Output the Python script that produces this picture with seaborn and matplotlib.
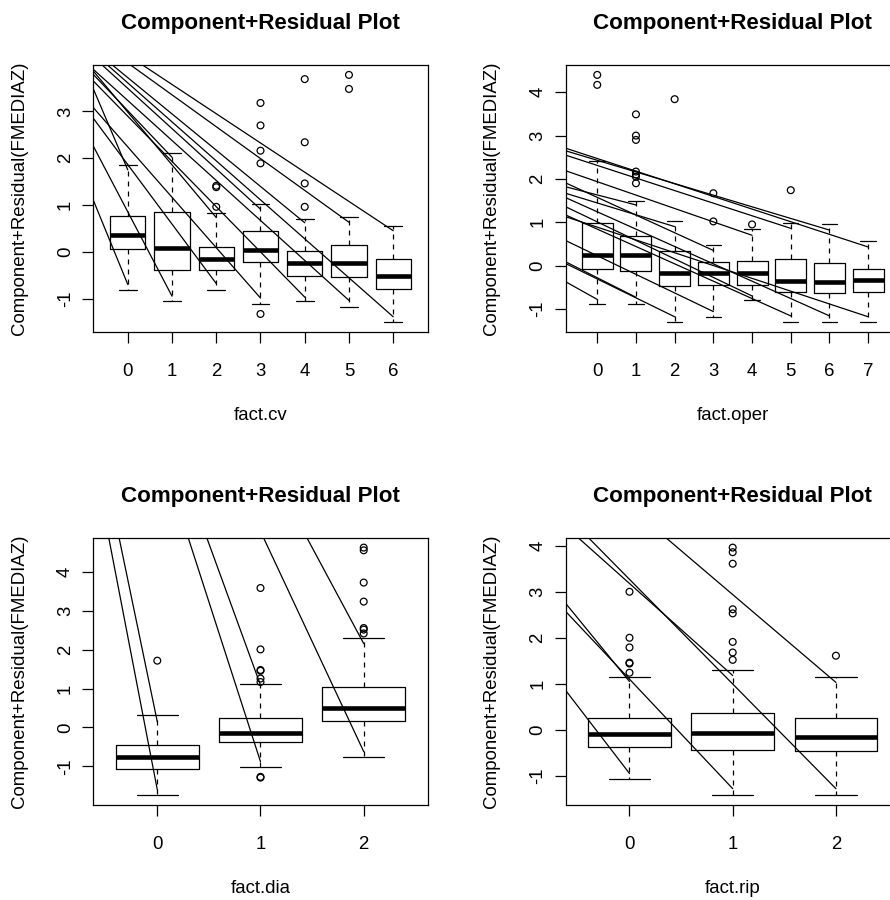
import matplotlib
matplotlib.use("Agg")
import matplotlib.pyplot as plt
import numpy as np
import pandas as pd
import seaborn as sns

TITLE = "Component+Residual Plot"
YLABEL = "Component+Residual(FMEDIAZ)"

# ---- fact.cv ----
cv_levels = ["0", "1", "2", "3", "4", "5", "6"]
cv_q1 = [0.05, -0.40, -0.40, -0.21, -0.51, -0.55, -0.79]
cv_med = [0.36, 0.09, -0.15, 0.03, -0.25, -0.25, -0.51]
cv_q3 = [0.77, 0.86, 0.11, 0.44, 0.02, 0.14, -0.16]
cv_lo = [-0.81, -1.06, -0.81, -1.11, -1.05, -1.18, -1.51]
cv_hi = [1.85, 2.12, 0.83, 1.01, 0.71, 0.75, 0.56]
cv_out = [[], [], [1.41, 1.38, 0.96], [3.18, 2.70, 2.16, 1.89, -1.33],
          [3.69, 2.34, 1.46, 0.96], [3.78, 3.48], []]
cv_seg_x0 = [-0.77, -0.77, -0.77, -0.77, -0.77, -0.77, -0.77, -0.77, -0.77,
             -0.59, -0.47, -0.36, 0.05, 0.32]
cv_seg_y0 = [1.08, 2.24, 2.84, 3.07, 3.46, 3.64, 3.78, 3.85, 3.89,
             4.0, 4.0, 4.0, 4.0, 4.0]
cv_seg_x1 = [0, 1, 2, 3, 0, 4, 1, 2, 5, 3, 6, 4, 5, 6]
cv_seg_y1 = [-0.70, -0.95, -0.68, -0.99, 1.75, -0.97, 2.02, 0.73, -1.04,
             0.91, -1.39, 0.62, 0.63, 0.45]

# ---- fact.oper ----
op_levels = ["0", "1", "2", "3", "4", "5", "6", "7"]
op_q1 = [-0.08, -0.12, -0.48, -0.45, -0.45, -0.60, -0.64, -0.60]
op_med = [0.25, 0.25, -0.18, -0.18, -0.18, -0.35, -0.37, -0.34]
op_q3 = [0.99, 0.69, 0.33, 0.08, 0.11, 0.15, 0.05, -0.08]
op_lo = [-0.88, -0.88, -1.31, -1.19, -0.79, -1.29, -1.29, -1.31]
op_hi = [2.42, 1.48, 1.02, 0.48, 0.84, 0.99, 0.95, 0.56]
op_out = [[4.40, 4.17], [3.49, 3.00, 2.90, 2.17, 2.10, 2.05, 1.90], [3.84],
          [1.67, 1.02], [0.95], [1.74], [], []]
op_seg_x0 = [-0.82] * 15
op_seg_y0 = [2.71, 2.65, 2.55, 2.19, 1.91, 1.82, 1.67, 1.57, 1.36, 1.17,
             1.13, 0.58, 0.09, 0.05, -0.37]
op_seg_x1 = [7, 6, 5, 4, 3, 1, 2, 6, 4, 5, 7, 3, 1, 2, 0]
op_seg_y1 = [0.43, 0.82, 0.86, 0.70, 0.35, 1.40, 0.90, -1.16, -0.70, -1.16,
             -1.18, -1.06, -0.73, -1.18, -0.78]

# ---- fact.dia ----
dia_levels = ["0", "1", "2"]
dia_q1 = [-1.06, -0.37, 0.17]
dia_med = [-0.76, -0.15, 0.49]
dia_q3 = [-0.45, 0.24, 1.04]
dia_lo = [-1.74, -1.02, -0.77]
dia_hi = [0.32, 1.11, 2.30]
dia_out = [[1.72], [3.59, 2.01, 1.48, 1.46, 1.26, 1.17, -1.27, -1.29],
           [4.63, 4.56, 3.73, 3.24, 2.56, 2.52, 2.42]]
dia_seg_x0 = [-0.47, -0.37, 0.30, 0.48, 1.03, 1.45]
dia_seg_y0 = [4.88, 4.88, 4.88, 4.88, 4.88, 4.88]
dia_seg_x1 = [0, 0, 1, 1, 2, 2]
dia_seg_y1 = [-1.60, 0.15, -0.88, 1.09, -0.62, 2.16]

# ---- fact.rip ----
rip_levels = ["0", "1", "2"]
rip_q1 = [-0.37, -0.42, -0.45]
rip_med = [-0.09, -0.05, -0.15]
rip_q3 = [0.27, 0.37, 0.27]
rip_lo = [-1.06, -1.41, -1.41]
rip_hi = [1.16, 1.31, 1.16]
rip_out = [[3.01, 2.01, 1.80, 1.47, 1.45, 1.25],
           [3.97, 3.87, 3.62, 2.63, 2.54, 1.92, 1.69, 1.53], [1.62]]
rip_seg_x0 = [-0.63, -0.63, -0.63, -0.50, -0.40, 0.35]
rip_seg_y0 = [0.90, 2.79, 2.61, 4.19, 4.19, 4.19]
rip_seg_x1 = [0, 0, 1, 1, 2, 2]
rip_seg_y1 = [-0.94, 1.06, -1.27, 1.19, -1.27, 1.04]

panels = [
    ("fact.cv", cv_levels, cv_q1, cv_med, cv_q3, cv_lo, cv_hi, cv_out,
     cv_seg_x0, cv_seg_y0, cv_seg_x1, cv_seg_y1),
    ("fact.oper", op_levels, op_q1, op_med, op_q3, op_lo, op_hi, op_out,
     op_seg_x0, op_seg_y0, op_seg_x1, op_seg_y1),
    ("fact.dia", dia_levels, dia_q1, dia_med, dia_q3, dia_lo, dia_hi, dia_out,
     dia_seg_x0, dia_seg_y0, dia_seg_x1, dia_seg_y1),
    ("fact.rip", rip_levels, rip_q1, rip_med, rip_q3, rip_lo, rip_hi, rip_out,
     rip_seg_x0, rip_seg_y0, rip_seg_x1, rip_seg_y1),
]

sns.set_theme(style="ticks")
plt.rcParams["font.family"] = ["Liberation Sans", "DejaVu Sans"]

LW = 0.9
FS = 13.4
W, H = 890.0, 900.0
AX_W, AX_H = 334.4, 267.3
lefts = [93.3, 565.5, 93.3, 565.5]
tops = [65.0, 65.0, 537.7, 537.7]

fig = plt.figure(figsize=(W / 100, H / 100), dpi=100)
fig.patch.set_facecolor("white")

for i, (xname, levels, q1, med, q3, lo, hi, outs, sx0, sy0, sx1, sy1) in enumerate(panels):
    ax = fig.add_axes([lefts[i] / W, 1 - (tops[i] + AX_H) / H, AX_W / W, AX_H / H])
    ax.set_facecolor("white")
    n = len(levels)
    pos = np.arange(n)

    stats = [dict(q1=q1[k], med=med[k], q3=q3[k], whislo=lo[k], whishi=hi[k], fliers=[])
             for k in range(n)]
    ax.bxp(stats, positions=pos, widths=0.8, showfliers=False, manage_ticks=False,
           boxprops=dict(color="black", linewidth=LW),
           medianprops=dict(color="black", linewidth=3.3, solid_capstyle="butt"),
           whiskerprops=dict(color="black", linewidth=LW, linestyle=(0, (4, 4))),
           capprops=dict(color="black", linewidth=LW))

    # outlying points
    ox = [pos[k] for k in range(n) for _ in outs[k]]
    oy = [v for k in range(n) for v in outs[k]]
    if ox:
        sns.scatterplot(x=ox, y=oy, ax=ax, s=24, facecolor="none",
                        edgecolor="black", linewidth=LW, zorder=4, legend=False)

    # component lines (extended slightly past their start so the frame clips them)
    rows = []
    for j in range(len(sx0)):
        xa = sx1[j] + (sx0[j] - sx1[j]) * 1.08
        ya = sy1[j] + (sy0[j] - sy1[j]) * 1.08
        rows.append((j, xa, ya))
        rows.append((j, sx1[j], sy1[j]))
    seg = pd.DataFrame(rows, columns=["seg", "x", "y"])
    sns.lineplot(data=seg, x="x", y="y", units="seg", estimator=None, sort=False,
                 color="black", linewidth=LW, ax=ax, legend=False)

    all_y = list(lo) + list(hi) + oy
    ymin, ymax = min(all_y), max(all_y)
    ypad = 0.04 * (ymax - ymin)
    y_lo, y_hi = ymin - ypad, ymax + ypad
    ax.set_ylim(y_lo, y_hi)
    ax.set_xlim(-0.5 - 0.04 * n, n - 0.5 + 0.04 * n)

    ax.set_xticks(pos)
    ax.set_xticklabels(levels)
    yt = list(range(int(np.ceil(y_lo)), int(np.floor(y_hi)) + 1))
    ax.set_yticks(yt)
    ax.set_yticklabels([str(v) for v in yt])

    ax.tick_params(axis="both", direction="out", length=7.9, width=LW,
                   color="black", labelsize=FS, labelcolor="black")
    ax.tick_params(axis="x", pad=14.2)
    ax.tick_params(axis="y", pad=6.0, labelrotation=90)
    for lab in ax.get_yticklabels():
        lab.set_va("center")

    for sp in ax.spines.values():
        sp.set_visible(True)
        sp.set_color("black")
        sp.set_linewidth(LW)

    ax.set_title(TITLE, fontsize=16.1, fontweight="bold", pad=25.7, color="black")
    ax.set_xlabel(xname, fontsize=FS, color="black", va="center")
    ax.xaxis.set_label_coords(0.5, -(415.8 - 332.3) / AX_H)
    ax.set_ylabel(YLABEL, fontsize=FS, color="black", va="center")
    ax.yaxis.set_label_coords((19.2 - 93.3) / AX_W, 0.5)

fig.savefig("out.png", dpi=100, facecolor="white")
